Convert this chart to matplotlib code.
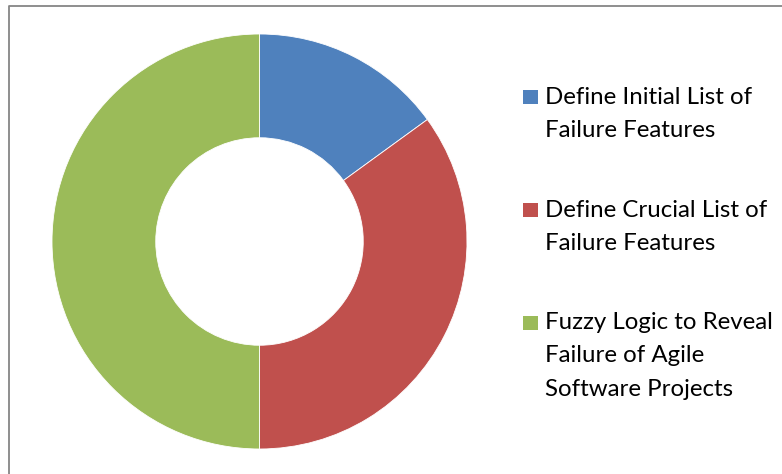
import matplotlib

matplotlib.use("Agg")
import matplotlib.pyplot as plt
from matplotlib.lines import Line2D
from matplotlib.patches import Rectangle

# --- data ---
labels = [
    "Define Initial List of\nFailure Features",
    "Define Crucial List of\nFailure Features",
    "Fuzzy Logic to Reveal\nFailure of Agile\nSoftware Projects",
]
shares = [15, 35, 50]
colors = ["#4F81BD", "#C0504D", "#9BBB59"]

W, H = 782, 474
fig = plt.figure(figsize=(W / 100, H / 100), dpi=100)
fig.patch.set_facecolor("white")

# donut: centre (259.5, 241.5) px, outer radius 207.5 px
cx, cy, r = 259.5, 241.5, 207.5
ax = fig.add_axes([(cx - r) / W, (H - cy - r) / H, 2 * r / W, 2 * r / H])
ax.pie(shares, colors=colors, startangle=90, counterclock=False,
       radius=1, wedgeprops=dict(width=0.5, edgecolor="white", linewidth=0.6))
ax.set_xlim(-1, 1)
ax.set_ylim(-1, 1)
ax.set_aspect("equal")
ax.axis("off")

# chart border (left + top visible)
fig.add_artist(Line2D([8.5 / W, 8.5 / W, 1], [0, 1 - 5.5 / H, 1 - 5.5 / H],
                      transform=fig.transFigure, color="#868686", lw=1.3))

# legend, drawn by hand to match the wrapped entries
first_baseline = [103.5, 216.7, 329.3]
line_step = 33.2
for lab, col, yb in zip(labels, colors, first_baseline):
    fig.add_artist(Rectangle((523.3 / W, 1 - (yb + 0.5) / H), 14.2 / W, 14.2 / H,
                             transform=fig.transFigure, fc=col, ec="none"))
    for i, line in enumerate(lab.split("\n")):
        fig.text(545 / W, 1 - (yb + i * line_step) / H, line, ha="left",
                 va="baseline", fontsize=17.3, family="Lato", color="black")

fig.savefig("out.png", dpi=100)
